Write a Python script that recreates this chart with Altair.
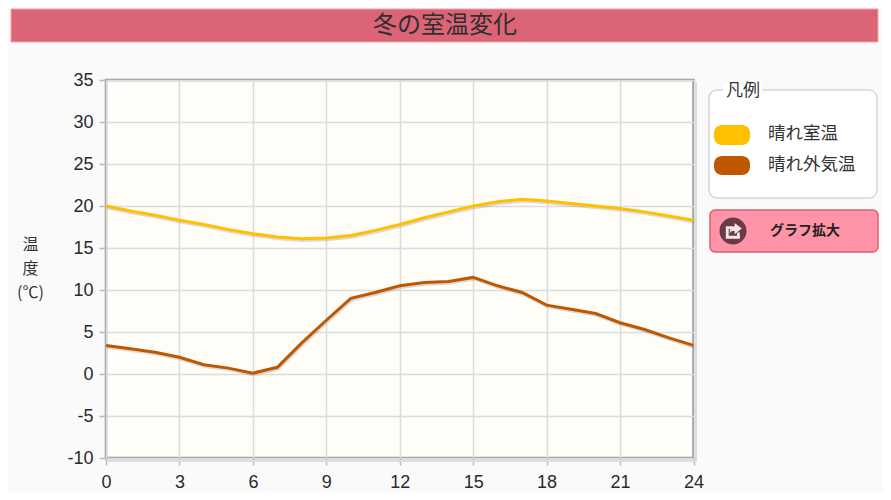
import altair as alt
import pandas as pd

hours = list(range(25))
room = [20.0, 19.4, 18.9, 18.3, 17.8, 17.2, 16.7, 16.3, 16.1, 16.2, 16.5, 17.1, 17.8,
        18.6, 19.3, 20.0, 20.5, 20.8, 20.6, 20.3, 20.0, 19.7, 19.3, 18.8, 18.3]
outer = [3.4, 3.0, 2.6, 2.0, 1.1, 0.7, 0.1, 0.8, 3.7, 6.4, 9.0, 9.7, 10.5,
         10.9, 11.0, 11.5, 10.5, 9.7, 8.2, 7.7, 7.2, 6.1, 5.3, 4.3, 3.4]
series_names = ["晴れ室温", "晴れ外気温"]
series_colors = ["#ffc000", "#bf5700"]
x_ticks = list(range(0, 25, 3))
y_ticks = list(range(-10, 36, 5))
title_text = "冬の室温変化"
button_text = "グラフ拡大"
legend_title = "凡例"

W, H = 587.5, 378
OX, OY = 106, 80  # page position of the plot origin
BG = "#fafafb"
FONT = "Noto Sans CJK JP"
NUM = "Liberation Sans"

df = pd.DataFrame({
    "hour": hours * 2,
    "temp": room + outer,
    "series": [series_names[0]] * 25 + [series_names[1]] * 25,
})
x_enc = alt.X("hour:Q", scale=alt.Scale(domain=[0, 24], nice=False),
              axis=alt.Axis(values=x_ticks, title=None, labelExpr="'' + datum.value", labelFont=NUM, labelFontSize=18,
                            labelColor="#2a2a2a", labelPadding=8, tickColor="#bbb", tickSize=7, tickWidth=1.5,
                            gridColor="#dcdcdc", gridWidth=1.5, domain=False, labelFlush=False))
y_enc = alt.Y("temp:Q", scale=alt.Scale(domain=[-10, 35], nice=False),
              axis=alt.Axis(values=y_ticks, labelExpr="'' + datum.value", labelFont=NUM, labelFontSize=18,
                            labelColor="#2a2a2a", labelPadding=6, tickColor="#bbb", tickSize=7, tickWidth=1.5,
                            gridColor="#dcdcdc", gridWidth=1.5, domain=False,
                            title=["温", "度", "(℃)"], titleAngle=0, titleFont=FONT, titleFontSize=16,
                            titleFontWeight="normal", titleColor="#333", titleLineHeight=24,
                            titleX=-76, titleY=156, titleAlign="center", titleBaseline="top"))
color_scale = alt.Scale(domain=series_names, range=series_colors)

one = alt.Data(values=[{}])


def box(x0, x1, y0, y1, **kw):
    return alt.Chart(one).mark_rect(**kw).encode(
        x=alt.value(x0 - OX), x2=alt.value(x1 - OX), y=alt.value(y0 - OY), y2=alt.value(y1 - OY))


def label(x, y, text, **kw):
    return alt.Chart(alt.Data(values=[{"t": text}])).mark_text(font=FONT, **kw).encode(
        x=alt.value(x - OX), y=alt.value(y - OY), text="t:N")


header = box(11, 878, 9, 42, fill="#dc6477", stroke="#eda3ae", strokeWidth=1)
title = label(445, 26, title_text, fontSize=24, color="#2e2e2e", align="center", baseline="middle")
legend_box = box(709, 877, 90, 198, fill="#ffffff", stroke="#d8d8d8", strokeWidth=1.5, cornerRadius=8)
legend_gap = box(723, 762, 84, 96, fill="#ffffff")
legend_head = label(743, 91, legend_title, fontSize=17, color="#333", align="center", baseline="middle")
swatch_a = box(714, 750, 125, 145, fill=series_colors[0], cornerRadius=8)
swatch_b = box(714, 750, 156, 175, fill=series_colors[1], cornerRadius=8)
key_a = label(768, 134, series_names[0], fontSize=17.5, color="#333", align="left", baseline="middle")
key_b = label(768, 165, series_names[1], fontSize=17.5, color="#333", align="left", baseline="middle")
button = box(710, 878, 210, 252, fill="#ff94a8", stroke="#d9606f", strokeWidth=1.5, cornerRadius=5)
button_circle = alt.Chart(one).mark_point(filled=True, fill="#6b3a48", size=730, shape="circle", opacity=1).encode(
    x=alt.value(733 - OX), y=alt.value(231 - OY))
ICON = ("M-0.45,-0.3H0V-0.12H-0.27V0.3H0.25V0.1H0.43V0.48H-0.45Z"
        "M0.1,-0.5L0.55,-0.15L0.1,0.2V0H0C-0.15,0 -0.2,0.1 -0.2,0.2C-0.25,-0.1 -0.1,-0.28 0.1,-0.3Z")
button_icon = alt.Chart(one).mark_point(filled=True, fill="#f3e4e7", size=1024, shape=ICON, opacity=1).encode(
    x=alt.value(733 - OX), y=alt.value(231 - OY))
button_text_mark = label(805, 231, button_text, fontSize=14, fontWeight="bold", color="#222",
                         align="center", baseline="middle")

shadow_r = box(695, 697, 82, 462, fill="#dedede")
shadow_b = box(108, 697, 460, 462, fill="#dedede")

base = alt.Chart(df)
grid = base.mark_line(opacity=0).encode(x=x_enc, y=y_enc, detail="series:N")
shade = base.mark_line(stroke="#8a8a8a", strokeWidth=2.5, opacity=0.3, yOffset=2, xOffset=1).encode(
    x="hour:Q", y="temp:Q", detail="series:N")
lines = base.mark_line(strokeWidth=3, clip=True).encode(
    x="hour:Q", y="temp:Q",
    color=alt.Color("series:N", scale=color_scale, legend=None))

chart = alt.layer(
    shadow_r, shadow_b, grid, shade, lines, header, title, legend_box, legend_gap, legend_head,
    swatch_a, swatch_b, key_a, key_b,
    button, button_circle, button_icon, button_text_mark,
).properties(
    width=W, height=H, background=BG,
    padding={"left": OX - 8, "top": OY - 8, "right": 875 - (OX - 8) - W, "bottom": 484 - (OY - 8) - H},
    autosize=alt.AutoSizeParams(type="none"),
).configure_view(fill="#fffdf7", stroke="#999999", strokeWidth=2.5)

chart.save("out.html", embed_options={"renderer": "svg", "actions": False})
